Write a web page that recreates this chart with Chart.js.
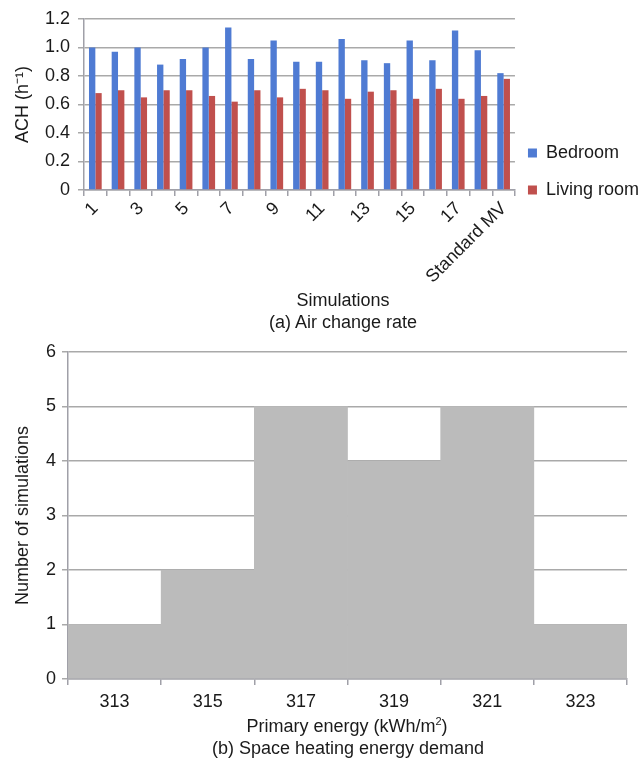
<!DOCTYPE html>
<html>
<head>
<meta charset="utf-8">
<script src="https://cdn.jsdelivr.net/npm/chart.js@4"></script>
<style>
  html, body { margin:0; padding:0; background:#fff; }
  body { width:643px; height:760px; position:relative; overflow:hidden; font-family:"Liberation Sans", Arial, sans-serif; color:#1a1a1a; }
  .box { position:absolute; left:0; width:643px; }
  .cap { position:absolute; left:0; width:686px; text-align:center; font-size:18px; line-height:22px; }
  sup { font-size:11px; line-height:0; }
</style>
</head>
<body>
<div class="box" style="top:0;height:295px"><canvas id="achChart"></canvas></div>
<div class="cap" style="top:289px">Simulations</div>
<div class="cap" style="top:311px">(a) Air change rate</div>
<div class="box" style="top:335px;height:380px"><canvas id="energyChart"></canvas></div>
<div class="cap" style="top:715px;width:694px">Primary energy (kWh/m<sup>2</sup>)</div>
<div class="cap" style="top:737px;width:696px">(b) Space heating energy demand</div>
<script>
// (a) air change rate per simulation
const simLabels = ['1','2','3','4','5','6','7','8','9','10','11','12','13','14','15','16','17','18','Standard MV'];
const bedroomAch = [1.00, 0.97, 1.00, 0.88, 0.92, 1.00, 1.14, 0.92, 1.05, 0.90, 0.90, 1.06, 0.91, 0.89, 1.05, 0.91, 1.12, 0.98, 0.82];
const livingAch  = [0.68, 0.70, 0.65, 0.70, 0.70, 0.66, 0.62, 0.70, 0.65, 0.71, 0.70, 0.64, 0.69, 0.70, 0.64, 0.71, 0.64, 0.66, 0.78];

// (b) histogram of primary energy
const energyBins = ['313','315','317','319','321','323'];
const simCounts = [1, 2, 5, 4, 5, 1];

const FONT = '"Liberation Sans", Arial, sans-serif';
Chart.defaults.font.family = FONT;
Chart.defaults.font.size = 18;
Chart.defaults.color = '#1a1a1a';
Chart.defaults.animation = false;

const gridCol = '#a9a9a9';
const axisCol = '#a0a0a8';

// nudge the legend down/left so it sits by the bottom of the plot
const legendShift = {
  id:'legendShift',
  afterLayout(chart, args, opts){
    const lg = chart.legend;
    if(!lg) return;
    lg.top += opts.dy; lg.bottom += opts.dy;
    lg.left += opts.dx; lg.right += opts.dx;
  }
};

new Chart(document.getElementById('achChart'), {
  type: 'bar',
  data: {
    labels: simLabels,
    datasets: [
      { label:'Bedroom', data: bedroomAch, backgroundColor:'#4f7bd3', barPercentage:1, categoryPercentage:0.56 },
      { label:'Living room', data: livingAch, backgroundColor:'#c0504d', barPercentage:1, categoryPercentage:0.56 }
    ]
  },
  plugins:[legendShift],
  options: {
    responsive:true, maintainAspectRatio:false,
    layout:{ padding:{ top:19, right:-12, left:0, bottom:0 } },
    plugins:{
      tooltip:{enabled:false},
      legendShift:{ dx:-6, dy:28 },
      legend:{
        position:'right', align:'end', fullSize:false,
        labels:{ boxWidth:9, boxHeight:9, padding:19, font:{size:18} }
      }
    },
    scales:{
      x:{
        grid:{ offset:true, drawOnChartArea:false, tickLength:6, color:axisCol, lineWidth:1.5 },
        border:{ color:axisCol, width:1.5 },
        ticks:{ autoSkip:false, minRotation:45, maxRotation:45, padding:2,
          callback:(v,i)=> i%2===0 ? simLabels[i] : '' },
        afterFit:s=>{ s.height = 105; }
      },
      y:{
        min:0, max:1.2,
        ticks:{ stepSize:0.2, padding:8, callback:v=> v===0 ? '0' : v.toFixed(1) },
        grid:{ color:gridCol, lineWidth:1.5, tickLength:6 },
        border:{ color:axisCol, width:1.5 },
        title:{ display:true, text:'ACH (h\u207B\u00B9)', padding:{top:12,bottom:0}, font:{size:18} },
        afterFit:s=>{ s.width = 84; }
      }
    }
  }
});

new Chart(document.getElementById('energyChart'), {
  type: 'bar',
  data: {
    labels: energyBins,
    datasets: [
      { label:'Simulations', data: simCounts, backgroundColor:'#bbbbbb', barPercentage:1, categoryPercentage:1 }
    ]
  },
  options: {
    responsive:true, maintainAspectRatio:false,
    layout:{ padding:{ top:17, right:16, left:0, bottom:0 } },
    plugins:{ legend:{display:false}, tooltip:{enabled:false} },
    scales:{
      x:{
        grid:{ offset:true, drawOnChartArea:false, tickLength:6, color:axisCol, lineWidth:1.5 },
        border:{ color:axisCol, width:1.5 },
        ticks:{ padding:6 },
        afterFit:s=>{ s.height = 36; }
      },
      y:{
        min:0, max:6,
        ticks:{ stepSize:1, padding:6 },
        grid:{ color:gridCol, lineWidth:1.5, tickLength:6 },
        border:{ color:axisCol, width:1.5 },
        title:{ display:true, text:'Number of simulations', padding:{top:12,bottom:0}, font:{size:18} },
        afterFit:s=>{ s.width = 68; }
      }
    }
  }
});
</script>
</body>
</html>
